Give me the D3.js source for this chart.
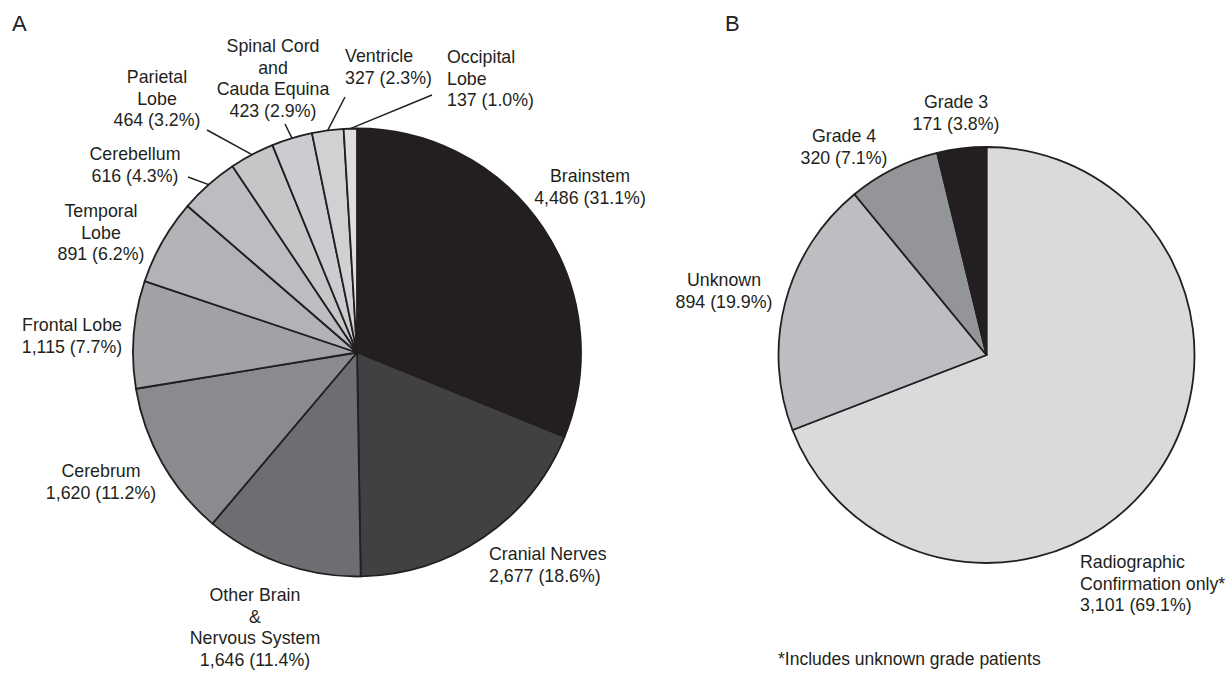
<!DOCTYPE html>
<html>
<head>
<meta charset="utf-8">
<script src="https://cdn.jsdelivr.net/npm/d3@7"></script>
<style>
  html, body { margin: 0; padding: 0; background: #fff; }
  text { font-family: "Liberation Sans", Arial, Helvetica, sans-serif; fill: #231f20; }
</style>
</head>
<body>
<div id="chart"></div>
<script>
// Panel A: tumour location
const siteLabels = [
    ['Brainstem'],
    ['Cranial Nerves'],
    ['Other Brain', '&', 'Nervous System'],
    ['Cerebrum'],
    ['Frontal Lobe'],
    ['Temporal', 'Lobe'],
    ['Cerebellum'],
    ['Parietal', 'Lobe'],
    ['Spinal Cord', 'and', 'Cauda Equina'],
    ['Ventricle'],
    ['Occipital', 'Lobe']
];
const siteCounts = [4486, 2677, 1646, 1620, 1115, 891, 616, 464, 423, 327, 137];
const siteColors = ['#231f20', '#414143', '#6d6e71', '#8a8b8e', '#a1a2a5', '#b2b3b6',
    '#bcbdc0', '#c5c6c8', '#cbcccf', '#d0d1d3', '#dddee0'];

// Panel B: grade
const gradeLabels = [
    ['Radiographic', 'Confirmation only*'],
    ['Unknown'],
    ['Grade 4'],
    ['Grade 3']
];
const gradeCounts = [3101, 894, 320, 171];
const gradeColors = ['#d9dadc', '#bdbec1', '#939598', '#231f20'];

const footnote = '*Includes unknown grade patients';

// label placement (x, first baseline, anchor) and leader line start points
const siteLabelPos = [
    { x: 590, y: 182, anchor: 'middle' },
    { x: 489, y: 560, anchor: 'start' },
    { x: 255, y: 601, anchor: 'middle' },
    { x: 101, y: 477, anchor: 'middle' },
    { x: 72, y: 331, anchor: 'middle' },
    { x: 101, y: 217, anchor: 'middle' },
    { x: 135, y: 160, anchor: 'middle', leader: [188, 177] },
    { x: 157, y: 83, anchor: 'middle', leader: [207, 130] },
    { x: 273, y: 52, anchor: 'middle', leader: [285, 124] },
    { x: 345, y: 62, anchor: 'start', leader: [345, 97] },
    { x: 447, y: 63, anchor: 'start', leader: [432, 95] }
];
const gradeLabelPos = [
    { x: 1080, y: 568, anchor: 'start' },
    { x: 724, y: 286, anchor: 'middle' },
    { x: 844, y: 142, anchor: 'middle' },
    { x: 956, y: 108, anchor: 'middle' }
];

const width = 1232;
const height = 694;
const fontSize = 17.8;
const lineHeight = 21.5;
const ink = '#231f20';

const svg = d3.select('#chart')
    .append('svg')
    .attr('width', width)
    .attr('height', height);

drawPie({ labels: siteLabels, counts: siteCounts, colors: siteColors, pos: siteLabelPos,
    cx: 357, cy: 352.5, radius: 224 });
drawPie({ labels: gradeLabels, counts: gradeCounts, colors: gradeColors, pos: gradeLabelPos,
    cx: 986.5, cy: 355, radius: 208 });

// panel letters
svg.append('text').attr('x', 12).attr('y', 31).style('font-size', '22px').text('A');
svg.append('text').attr('x', 725).attr('y', 31).style('font-size', '22px').text('B');

svg.append('text')
    .attr('x', 778)
    .attr('y', 665)
    .style('font-size', '17.5px')
    .text(footnote);

function drawPie(cfg) {
    const total = d3.sum(cfg.counts);
    const data = cfg.counts.map((v, i) => ({
        lines: cfg.labels[i],
        value: v,
        color: cfg.colors[i],
        pos: cfg.pos[i]
    }));

    const pie = d3.pie().value(d => d.value).sort(null);
    const arc = d3.arc().innerRadius(0).outerRadius(cfg.radius);
    const edge = d3.arc().innerRadius(cfg.radius).outerRadius(cfg.radius);
    const fmtCount = d3.format(',');
    const fmtPct = d3.format('.1%');

    const g = svg.append('g')
        .attr('transform', `translate(${cfg.cx},${cfg.cy})`);

    const slices = pie(data);

    g.selectAll('path')
        .data(slices)
        .enter()
        .append('path')
        .attr('d', arc)
        .attr('fill', d => d.data.color)
        .attr('stroke', ink)
        .attr('stroke-width', 1.8)
        .attr('stroke-linejoin', 'round');

    // leader lines run from the label to the middle of the slice's rim
    slices.filter(d => d.data.pos.leader).forEach(d => {
        const [ex, ey] = edge.centroid(d);
        svg.append('line')
            .attr('x1', d.data.pos.leader[0])
            .attr('y1', d.data.pos.leader[1])
            .attr('x2', cfg.cx + ex)
            .attr('y2', cfg.cy + ey)
            .attr('stroke', ink)
            .attr('stroke-width', 1.5);
    });

    slices.forEach(d => {
        const lines = d.data.lines.concat(`${fmtCount(d.data.value)} (${fmtPct(d.data.value / total)})`);
        const t = svg.append('text')
            .attr('text-anchor', d.data.pos.anchor)
            .style('font-size', fontSize + 'px');
        lines.forEach((s, i) => {
            t.append('tspan')
                .attr('x', d.data.pos.x)
                .attr('y', d.data.pos.y + i * lineHeight)
                .text(s);
        });
    });
}
</script>
</body>
</html>
